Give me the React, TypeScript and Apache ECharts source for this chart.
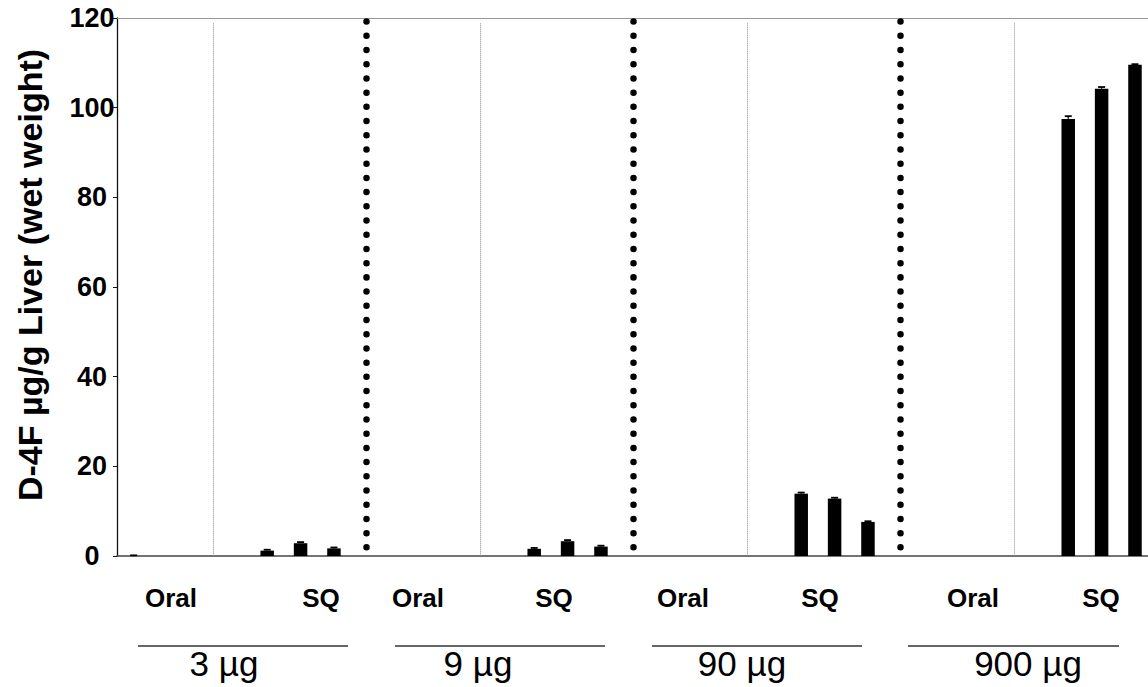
import React, { useEffect, useRef } from "react";
import * as echarts from "echarts";

// ---- data ----
const doseGroups = ["3 \u00b5g", "9 \u00b5g", "90 \u00b5g", "900 \u00b5g"];
const routes = ["Oral", "SQ"];
const yTicks = [0, 20, 40, 60, 80, 100, 120];
const yAxisTitle = "D-4F \u00b5g/g Liver (wet weight)";
// SQ: three bars per dose group
const sqValues = [
  [1.2, 2.85, 1.7],
  [1.6, 3.3, 2.1],
  [13.9, 12.8, 7.6],
  [97.5, 104.2, 109.6],
];
const sqErrors = [
  [0.2, 0.25, 0.2],
  [0.2, 0.25, 0.2],
  [0.25, 0.2, 0.15],
  [0.6, 0.4, 0.1],
];
// Oral: one bar per dose group (all ~0)
const oralValues = [0, 0, 0, 0];
const oralErrors = [0.15, 0, 0, 0];

// ---- layout (x in slot units: 8 slots per dose group) ----
const SLOTS_PER_GROUP = 8;
const sqSlots = [4.5, 5.5, 6.5];
const oralSlot = 0.5;
const dividerSlot = 2.875;
const separatorSlot = 7.47;
const xMax = 30.89;

const FONT = '"Liberation Sans", Arial, sans-serif';

// label layout in pixels
const routeLabelX = [
  [171, 321],
  [418, 554],
  [683, 820],
  [973, 1101],
];
const underlineX = [
  [138, 348],
  [395, 605],
  [652, 862],
  [908, 1119],
];
const groupLabelX = [224, 478, 742, 1028];

export default function App() {
  const ref = useRef<HTMLDivElement>(null);

  useEffect(() => {
    if (!ref.current) return;
    const chart = echarts.init(ref.current, null, { renderer: "svg" });

    const sqData: number[][] = [];
    const errData: number[][] = [];
    sqValues.forEach((vals, g) => {
      vals.forEach((v, i) => {
        const x = g * SLOTS_PER_GROUP + sqSlots[i];
        sqData.push([x, v]);
        errData.push([x, v, sqErrors[g][i]]);
      });
    });
    const oralData: number[][] = [];
    oralValues.forEach((v, g) => {
      const x = g * SLOTS_PER_GROUP + oralSlot;
      oralData.push([x, v]);
      if (oralErrors[g] > 0) errData.push([x, v, oralErrors[g]]);
    });

    const dividerLines = doseGroups.map((_, g) => {
      const x = g * SLOTS_PER_GROUP + dividerSlot;
      return [{ coord: [x, 118.8] }, { coord: [x, 0] }];
    });
    const separatorLines = doseGroups.slice(0, 3).map((_, g) => {
      const x = g * SLOTS_PER_GROUP + separatorSlot;
      return [{ coord: [x, 119.2] }, { coord: [x, 0.6] }];
    });

    const graphics: any[] = [];
    graphics.push({
      type: "text",
      x: 30,
      y: 275,
      rotation: Math.PI / 2,
      style: {
        text: yAxisTitle,
        font: `bold 34px ${FONT}`,
        fill: "#000",
        align: "center",
        verticalAlign: "middle",
      },
    });
    doseGroups.forEach((label, g) => {
      routes.forEach((r, i) => {
        graphics.push({
          type: "text",
          x: routeLabelX[g][i],
          y: 598,
          style: {
            text: r,
            font: `bold 26px ${FONT}`,
            fill: "#000",
            align: "center",
            verticalAlign: "middle",
          },
        });
      });
      graphics.push({
        type: "line",
        shape: { x1: underlineX[g][0], y1: 646, x2: underlineX[g][1], y2: 646 },
        style: { stroke: "#333", lineWidth: 1.5 },
      });
      graphics.push({
        type: "text",
        x: groupLabelX[g],
        y: 663,
        style: {
          text: label,
          font: `35px ${FONT}`,
          fill: "#000",
          align: "center",
          verticalAlign: "middle",
        },
      });
    });

    chart.setOption({
      animation: false,
      backgroundColor: "#fff",
      grid: {
        left: 117,
        right: 0,
        top: 18,
        bottom: 131,
        containLabel: false,
        outerBoundsMode: "none",
      },
      xAxis: [
        {
          type: "value",
          min: 0,
          max: xMax,
          position: "bottom",
          axisLine: { show: true, lineStyle: { color: "#444", width: 1.5 } },
          axisTick: { show: false },
          axisLabel: { show: false },
          splitLine: { show: false },
        },
        {
          type: "value",
          min: 0,
          max: xMax,
          position: "top",
          axisLine: { show: true, lineStyle: { color: "#999", width: 1 } },
          axisTick: { show: false },
          axisLabel: { show: false },
          splitLine: { show: false },
        },
      ],
      yAxis: {
        type: "value",
        min: yTicks[0],
        max: yTicks[yTicks.length - 1],
        interval: 20,
        axisLine: { show: true, lineStyle: { color: "#111", width: 1.3 } },
        axisTick: { show: true, length: 4, lineStyle: { color: "#111" } },
        axisLabel: {
          margin: 25,
          align: "center",
          color: "#000",
          fontWeight: "bold",
          fontSize: 27,
          fontFamily: FONT,
        },
        splitLine: { show: false },
      },
      series: [
        {
          type: "bar",
          name: routes[1],
          data: sqData,
          barWidth: 13.5,
          itemStyle: { color: "#000" },
          markLine: {
            silent: true,
            symbol: ["none", "none"],
            label: { show: false },
            data: [
              ...dividerLines.map((d) => [
                { ...d[0], lineStyle: { color: "#888", width: 1, type: [1, 1] } },
                d[1],
              ]),
              ...separatorLines.map((d) => [
                {
                  ...d[0],
                  lineStyle: {
                    color: "#000",
                    width: 6.5,
                    type: [0.01, 14.2],
                    cap: "round",
                  },
                },
                d[1],
              ]),
            ],
          },
        },
        {
          type: "bar",
          name: routes[0],
          data: oralData,
          barWidth: 13.5,
          barGap: "-100%",
          itemStyle: { color: "#000" },
        },
        {
          type: "custom",
          name: "error",
          data: errData,
          z: 5,
          renderItem: (params: any, api: any) => {
            const x = api.value(0);
            const y = api.value(1);
            const e = api.value(2);
            const p0 = api.coord([x, y]);
            const p1 = api.coord([x, y + e]);
            return {
              type: "group",
              children: [
                {
                  type: "line",
                  shape: { x1: p0[0], y1: p0[1], x2: p1[0], y2: p1[1] },
                  style: { stroke: "#000", lineWidth: 1.2 },
                },
                {
                  type: "line",
                  shape: { x1: p1[0] - 3.5, y1: p1[1], x2: p1[0] + 3.5, y2: p1[1] },
                  style: { stroke: "#000", lineWidth: 1.8 },
                },
              ],
            };
          },
        },
      ],
      graphic: graphics,
    });

    return () => chart.dispose();
  }, []);

  return (
    <div
      ref={ref}
      style={{ position: "fixed", left: 0, top: 0, width: 1148, height: 687 }}
    />
  );
}
